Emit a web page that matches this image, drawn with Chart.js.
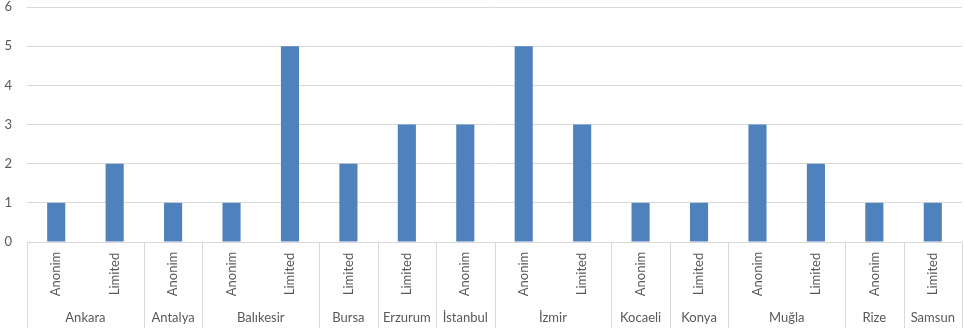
<!DOCTYPE html>
<html>
<head>
<meta charset="utf-8">
<script src="https://cdn.jsdelivr.net/npm/chart.js@4/dist/chart.umd.min.js"></script>
<style>
  html, body { margin: 0; padding: 0; background: #fff; }
  #wrap { width: 964px; height: 332px; }
</style>
</head>
<body>
<div id="wrap"><canvas id="chart"></canvas></div>
<script>
  // ===== Dados =====
  const subLabels = ['Anonim', 'Limited', 'Anonim', 'Anonim', 'Limited', 'Limited', 'Limited', 'Anonim',
                     'Anonim', 'Limited', 'Anonim', 'Limited', 'Anonim', 'Limited', 'Anonim', 'Limited'];
  const cities    = ['Ankara', 'Ankara', 'Antalya', 'Balıkesir', 'Balıkesir', 'Bursa', 'Erzurum', 'İstanbul',
                     'İzmir', 'İzmir', 'Kocaeli', 'Konya', 'Muğla', 'Muğla', 'Rize', 'Samsun'];
  const counts    = [1, 2, 1, 1, 5, 2, 3, 3, 5, 3, 1, 1, 3, 2, 1, 1];
  const yTicks    = [0, 1, 2, 3, 4, 5, 6];

  const TEXT = '#595959';
  const GRID = '#d9d9d9';
  const FONT = 'Lato, "Open Sans", sans-serif';

  // two-level category axis (sub label + city), drawn with the x scale positions
  const groupAxis = {
    id: 'groupAxis',
    afterDraw(chart) {
      const { ctx, chartArea: area, scales: { x } } = chart;
      const half = (x.getPixelForValue(1) - x.getPixelForValue(0)) / 2;
      const bottom = area.bottom + 86;
      ctx.save();
      ctx.fillStyle = TEXT;
      ctx.font = '13px ' + FONT;

      // sub labels, rotated
      subLabels.forEach((lab, i) => {
        const px = x.getPixelForValue(i);
        ctx.save();
        ctx.translate(px, area.bottom + 32);
        ctx.rotate(-Math.PI / 2);
        ctx.textAlign = 'center';
        ctx.textBaseline = 'middle';
        ctx.fillText(lab, 0, 0);
        ctx.restore();
      });

      // groups
      let start = 0;
      ctx.strokeStyle = GRID;
      ctx.lineWidth = 1;
      const line = px => {
        ctx.beginPath();
        ctx.moveTo(Math.round(px) + 0.5, area.bottom);
        ctx.lineTo(Math.round(px) + 0.5, bottom);
        ctx.stroke();
      };
      for (let i = 1; i <= cities.length; i++) {
        if (i === cities.length || cities[i] !== cities[start]) {
          const left  = x.getPixelForValue(start) - half;
          const right = x.getPixelForValue(i - 1) + half;
          ctx.textAlign = 'center';
          ctx.textBaseline = 'middle';
          ctx.fillText(cities[start], (left + right) / 2, area.bottom + 76);
          line(left);
          if (i === cities.length) line(right);
          start = i;
        }
      }
      ctx.restore();
    }
  };

  new Chart(document.getElementById('chart'), {
    type: 'bar',
    data: {
      labels: subLabels,
      datasets: [{
        data: counts,
        backgroundColor: '#4f81bd',
        categoryPercentage: 1,
        barPercentage: 0.31
      }]
    },
    options: {
      responsive: true,
      maintainAspectRatio: false,
      animation: false,
      layout: { padding: { top: 7, right: 2, bottom: 0, left: 0 } },
      plugins: { legend: { display: false }, tooltip: { enabled: false } },
      scales: {
        x: {
          grid: { display: false },
          border: { display: false },
          ticks: { display: false },
          afterFit: s => { s.height = 90; s.paddingLeft = 0; s.paddingRight = 0; }
        },
        y: {
          min: yTicks[0],
          max: yTicks[yTicks.length - 1],
          afterBuildTicks: s => { s.ticks = yTicks.map(v => ({ value: v })); },
          grid: { color: GRID, drawTicks: false },
          border: { display: false },
          ticks: { color: TEXT, padding: 15, font: { family: FONT, size: 13 } },
          afterFit: s => { s.width = 27; s.paddingTop = 0; s.paddingBottom = 0; }
        }
      }
    },
    plugins: [groupAxis]
  });
</script>
</body>
</html>
